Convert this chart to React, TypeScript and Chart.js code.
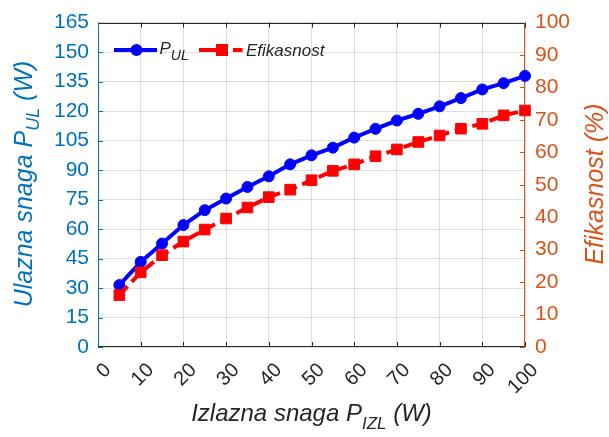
import React, { useEffect, useRef } from "react";
import { Chart, registerables } from "chart.js";

Chart.register(...registerables);

const xValues = [5, 10, 15, 20, 25, 30, 35, 40, 45, 50, 55, 60, 65, 70, 75, 80, 85, 90, 95, 100];
const pUL = [31.5, 43.3, 52.6, 62.0, 69.6, 75.5, 81.4, 86.8, 92.9, 97.5, 101.4, 106.5, 111.0, 115.2, 118.6, 122.4, 126.6, 131.0, 134.2, 137.9];
const efikasnost = [16.0, 23.0, 28.3, 32.5, 36.2, 39.6, 43.0, 46.2, 48.5, 51.4, 54.3, 56.3, 58.8, 60.9, 63.2, 65.2, 67.3, 68.8, 71.4, 72.9];

const xTicks = [0, 10, 20, 30, 40, 50, 60, 70, 80, 90, 100];
const leftTicks = [0, 15, 30, 45, 60, 75, 90, 105, 120, 135, 150, 165];
const rightTicks = [0, 10, 20, 30, 40, 50, 60, 70, 80, 90, 100];

const FAMILY = "'Liberation Sans', Arial, Helvetica, sans-serif";
const DARK = "#262626";
const AX_BLUE = "#0072BD";
const AX_ORANGE = "#D95319";
const LINE_BLUE = "#0000FF";
const LINE_RED = "#FF0000";
const GRID = "rgba(38,38,38,0.15)";

type Seg = { text: string; size: number; dy?: number };

function drawRich(ctx: CanvasRenderingContext2D, segs: Seg[], x: number, y: number, align: "center" | "left") {
  let total = 0;
  const widths = segs.map((s) => {
    ctx.font = `italic ${s.size}px ${FAMILY}`;
    const w = ctx.measureText(s.text).width;
    total += w;
    return w;
  });
  let cx = align === "center" ? x - total / 2 : x;
  ctx.textAlign = "left";
  ctx.textBaseline = "alphabetic";
  segs.forEach((s, i) => {
    ctx.font = `italic ${s.size}px ${FAMILY}`;
    ctx.fillText(s.text, cx, y + (s.dy || 0));
    cx += widths[i];
  });
}

const decor = {
  id: "decor",
  beforeDatasetsDraw(chart: any) {
    const { ctx, chartArea: a, scales } = chart;
    const xs = scales.x, ys = scales.y, ys2 = scales.y2;
    const tl = 5;
    ctx.save();
    ctx.lineWidth = 1;
    const line = (x1: number, y1: number, x2: number, y2: number) => {
      ctx.beginPath();
      ctx.moveTo(x1, y1);
      ctx.lineTo(x2, y2);
      ctx.stroke();
    };
    ctx.strokeStyle = DARK;
    xTicks.forEach((v) => {
      const px = Math.round(xs.getPixelForValue(v)) + 0.5;
      line(px, a.bottom, px, a.bottom - tl);
      line(px, a.top, px, a.top + tl);
    });
    ctx.strokeStyle = AX_BLUE;
    leftTicks.forEach((v) => {
      const py = Math.round(ys.getPixelForValue(v)) + 0.5;
      line(a.left, py, a.left + tl, py);
    });
    ctx.strokeStyle = AX_ORANGE;
    rightTicks.forEach((v) => {
      const py = Math.round(ys2.getPixelForValue(v)) + 0.5;
      line(a.right, py, a.right - tl, py);
    });
    const L = Math.round(a.left) + 0.5, R = Math.round(a.right) - 0.5;
    const T = Math.round(a.top) + 0.5, B = Math.round(a.bottom) - 0.5;
    ctx.strokeStyle = DARK;
    line(L, T, R, T);
    line(L, B, R, B);
    ctx.strokeStyle = AX_BLUE;
    line(L, T, L, B);
    ctx.strokeStyle = AX_ORANGE;
    line(R, T, R, B);
    ctx.restore();
  },
  afterDraw(chart: any) {
    const { ctx, chartArea: a, scales } = chart;
    const xs = scales.x;
    ctx.save();
    // x tick labels, rotated
    ctx.fillStyle = DARK;
    ctx.font = `20px ${FAMILY}`;
    xTicks.forEach((v) => {
      const px = xs.getPixelForValue(v);
      ctx.save();
      ctx.translate(px + 10, a.bottom + 20);
      ctx.rotate(-Math.PI / 4);
      ctx.textAlign = "right";
      ctx.textBaseline = "middle";
      ctx.fillText(String(v), 0, 0);
      ctx.restore();
    });
    // x title
    ctx.fillStyle = DARK;
    drawRich(ctx, [
      { text: "Izlazna snaga P", size: 24 },
      { text: "IZL", size: 17, dy: 8 },
      { text: " (W)", size: 24 },
    ], (a.left + a.right) / 2, 421, "center");
    // left title
    ctx.save();
    ctx.translate(31.5, 184);
    ctx.rotate(-Math.PI / 2);
    ctx.fillStyle = AX_BLUE;
    drawRich(ctx, [
      { text: "Ulazna snaga P", size: 25 },
      { text: "UL", size: 18, dy: 7 },
      { text: " (W)", size: 25 },
    ], 0, 0, "center");
    ctx.restore();
    // right title
    ctx.save();
    ctx.translate(603, 184);
    ctx.rotate(-Math.PI / 2);
    ctx.fillStyle = AX_ORANGE;
    drawRich(ctx, [{ text: "Efikasnost (%)", size: 25 }], 0, 0, "center");
    ctx.restore();
    // legend
    const ly = 50;
    ctx.lineWidth = 4;
    ctx.strokeStyle = LINE_BLUE;
    ctx.beginPath();
    ctx.moveTo(114, ly);
    ctx.lineTo(157, ly);
    ctx.stroke();
    ctx.fillStyle = LINE_BLUE;
    ctx.beginPath();
    ctx.arc(136.5, ly, 6, 0, Math.PI * 2);
    ctx.fill();
    ctx.fillStyle = DARK;
    drawRich(ctx, [
      { text: "P", size: 17 },
      { text: "UL", size: 14, dy: 6 },
    ], 159.5, 54, "left");
    ctx.strokeStyle = LINE_RED;
    ctx.beginPath();
    ctx.moveTo(199, ly);
    ctx.lineTo(216, ly);
    ctx.moveTo(233, ly);
    ctx.lineTo(242.5, ly);
    ctx.stroke();
    ctx.fillStyle = LINE_RED;
    ctx.fillRect(216, ly - 6, 12, 12);
    ctx.fillStyle = DARK;
    drawRich(ctx, [{ text: "Efikasnost", size: 17 }], 246, 56, "left");
    ctx.restore();
  },
};

export default function App() {
  const ref = useRef<HTMLCanvasElement>(null);
  useEffect(() => {
    if (!ref.current) return;
    Chart.defaults.font.family = FAMILY;
    const chart = new Chart(ref.current, {
      type: "line",
      data: {
        datasets: [
          {
            label: "Efikasnost",
            data: xValues.map((x, i) => ({ x, y: efikasnost[i] })),
            yAxisID: "y2",
            borderColor: LINE_RED,
            backgroundColor: LINE_RED,
            borderWidth: 4,
            borderDash: [12, 6],
            pointStyle: "rect",
            pointRadius: 7.5,
            pointBorderWidth: 1,
            pointBorderColor: LINE_RED,
            pointBackgroundColor: LINE_RED,
            tension: 0,
            clip: false,
            order: 0,
          },
          {
            label: "P_UL",
            data: xValues.map((x, i) => ({ x, y: pUL[i] })),
            yAxisID: "y",
            borderColor: LINE_BLUE,
            backgroundColor: LINE_BLUE,
            borderWidth: 4,
            pointStyle: "circle",
            pointRadius: 5.5,
            pointBorderWidth: 1,
            pointBorderColor: LINE_BLUE,
            pointBackgroundColor: LINE_BLUE,
            tension: 0,
            clip: false,
            order: 1,
          },
        ] as any,
      },
      options: {
        animation: false,
        responsive: false,
        maintainAspectRatio: false,
        layout: { padding: { top: 22, left: 0, right: 0, bottom: 0 } },
        plugins: { legend: { display: false }, tooltip: { enabled: false } },
        scales: {
          x: {
            type: "linear",
            min: 0,
            max: 100,
            grid: { color: GRID, drawTicks: false },
            border: { display: false },
            ticks: { display: false, stepSize: 10 },
            afterFit: (s: any) => { s.height = 90; },
          },
          y: {
            type: "linear",
            position: "left",
            min: 0,
            max: 165,
            grid: { color: GRID, drawTicks: false },
            border: { display: false },
            ticks: { stepSize: 15, color: AX_BLUE, padding: 9, autoSkip: false, font: { size: 21 } },
            afterFit: (s: any) => { s.width = 98; },
          },
          y2: {
            type: "linear",
            position: "right",
            min: 0,
            max: 100,
            grid: { drawOnChartArea: false, drawTicks: false },
            border: { display: false },
            ticks: { stepSize: 10, color: AX_ORANGE, padding: 10, autoSkip: false, font: { size: 21 } },
            afterFit: (s: any) => { s.width = 84; },
          },
        },
      } as any,
      plugins: [decor],
    });
    return () => chart.destroy();
  }, []);
  return (
    <div style={{ position: "absolute", left: 0, top: 0, width: 609, height: 437, background: "#fff" }}>
      <canvas ref={ref} width={609} height={437} style={{ display: "block" }} />
    </div>
  );
}
